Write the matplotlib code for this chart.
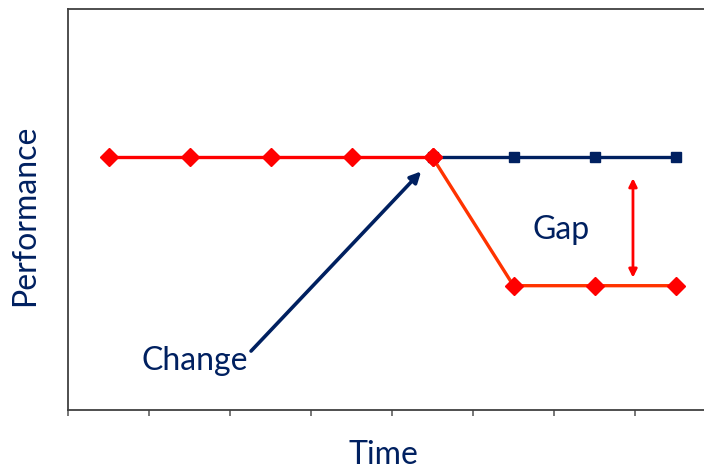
import matplotlib.pyplot as plt

plt.rcParams['font.family'] = ['Lato', 'DejaVu Sans']

navy = '#002060'

# performance levels over eight periods
waktu_awal = [1, 2, 3, 4, 5]
kinerja_awal = [6.3, 6.3, 6.3, 6.3, 6.3]
waktu_akhir = [5, 6, 7, 8]
kinerja_harapan = [6.3, 6.3, 6.3, 6.3]
kinerja_aktual = [6.3, 3.1, 3.1, 3.1]

fig = plt.figure(figsize=(7.04, 4.74), dpi=100)
ax = fig.add_axes([68 / 704, 64 / 474, 648 / 704, 401 / 474])

# expected path (no change)
ax.plot(waktu_akhir, kinerja_harapan, color=navy, lw=2.4, marker='s', ms=7, zorder=2)
# actual path after the change
ax.plot(waktu_akhir, kinerja_aktual, color='#FF3300', lw=2.4, marker='D', ms=9,
        mfc='#FF0000', mec='#FF0000', zorder=3)
ax.plot(waktu_awal, kinerja_awal, color='#FF0000', lw=2.4, marker='D', ms=9, zorder=4)

# gap arrow
ax.annotate('', xy=(7.475, 3.3), xytext=(7.475, 5.78),
            arrowprops=dict(arrowstyle='<|-|>', color='#FF0000', lw=2,
                            mutation_scale=12, shrinkA=0, shrinkB=0))
ax.text(6.59, 4.5, 'Gap', color=navy, fontsize=23, ha='center', va='center')

# change arrow
ax.annotate('', xy=(4.86, 5.95), xytext=(2.76, 1.47),
            arrowprops=dict(arrowstyle='-|>', color=navy, lw=2.6,
                            mutation_scale=16, shrinkA=0, shrinkB=0))
ax.text(2.07, 1.22, 'Change', color=navy, fontsize=23, ha='center', va='center')

ax.set_xlim(0.5, 8.5)
ax.set_ylim(0, 10)
ax.set_xticks([x + 0.5 for x in range(9)])
ax.set_xticklabels([])
ax.set_yticks([])
ax.tick_params(axis='x', direction='out', length=4, width=1.2, color='#606060')
for s in ax.spines.values():
    s.set_color('#404040')
    s.set_linewidth(1.3)

fig.text(25 / 704, 1 - 215 / 474, 'Performance', rotation=90, color=navy,
         fontsize=23, ha='center', va='center')
fig.text(383 / 704, 1 - 455 / 474, 'Time', color=navy, fontsize=23,
         ha='center', va='center')

fig.savefig('out.png', dpi=100)
